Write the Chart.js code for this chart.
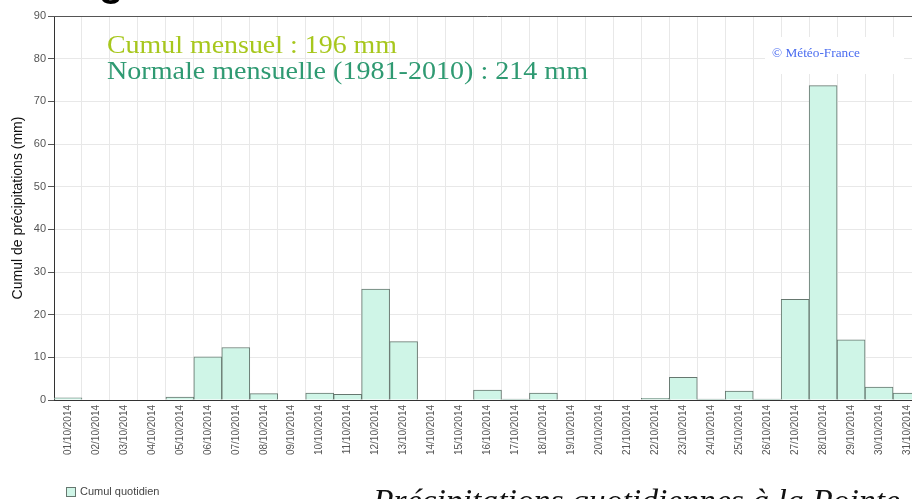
<!DOCTYPE html>
<html>
<head>
<meta charset="utf-8">
<script src="https://cdn.jsdelivr.net/npm/chart.js@4.4.1/dist/chart.umd.min.js"></script>
<style>
  html, body { margin: 0; padding: 0; background: #fff; overflow: hidden; }
  #wrap { width: 912px; height: 499px; overflow: hidden; position: relative; }
  canvas { display: block; }
</style>
</head>
<body>
<div id="wrap"><canvas id="c" width="930" height="499"></canvas></div>
<script>
const categories = [
  '01/10/2014','02/10/2014','03/10/2014','04/10/2014','05/10/2014','06/10/2014','07/10/2014','08/10/2014',
  '09/10/2014','10/10/2014','11/10/2014','12/10/2014','13/10/2014','14/10/2014','15/10/2014','16/10/2014',
  '17/10/2014','18/10/2014','19/10/2014','20/10/2014','21/10/2014','22/10/2014','23/10/2014','24/10/2014',
  '25/10/2014','26/10/2014','27/10/2014','28/10/2014','29/10/2014','30/10/2014','31/10/2014'
];
const dailyRain = [
  0.5, 0, 0, 0, 0.7, 10.1, 12.3, 1.5,
  0, 1.6, 1.3, 26.0, 13.7, 0, 0, 2.3,
  0.2, 1.6, 0, 0, 0, 0.4, 5.3, 0.2,
  2.1, 0.2, 23.6, 73.7, 14.1, 3.0, 1.6
];
const yTicks = [0, 10, 20, 30, 40, 50, 60, 70, 80, 90];
const seriesName = 'Cumul quotidien';
const axisTitle = 'Cumul de précipitations (mm)';
const monthlyText = 'Cumul mensuel : 196 mm';
const normalText = 'Normale mensuelle (1981-2010) : 214 mm';
const creditText = '© Météo-France';
const captionText = 'Précipitations quotidiennes à la Pointe';
const headerText = 'g';

const FILL = '#cff5e7';
const EDGE = '#66776f';

function fitText(ctx, text, x, y, width) {
  const w = ctx.measureText(text).width;
  ctx.save();
  ctx.translate(x, y);
  ctx.scale(width / w, 1);
  ctx.fillText(text, 0, 0);
  ctx.restore();
}

const decor = {
  id: 'decor',
  beforeDatasetsDraw(chart) {
    const ctx = chart.ctx;
    ctx.save();
    ctx.fillStyle = '#ffffff';
    ctx.fillRect(765, 37, 139, 37);
    ctx.restore();
  },
  afterDraw(chart) {
    const ctx = chart.ctx, a = chart.chartArea;
    ctx.save();
    ctx.strokeStyle = '#555555';
    ctx.lineWidth = 1;
    ctx.beginPath();
    ctx.moveTo(a.left, a.top + 0.5);
    ctx.lineTo(a.right, a.top + 0.5);
    ctx.stroke();

    ctx.textBaseline = 'alphabetic';
    ctx.textAlign = 'left';
    ctx.font = '25px "Liberation Serif", "Times New Roman", serif';
    ctx.fillStyle = '#a7c71d';
    fitText(ctx, monthlyText, 107, 53, 290);
    ctx.fillStyle = '#2f9a72';
    fitText(ctx, normalText, 107, 79, 481);

    ctx.font = '13px "Liberation Serif", "Times New Roman", serif';
    ctx.fillStyle = '#4a6cf0';
    fitText(ctx, creditText, 772, 57, 88);

    ctx.font = 'bold 40px "Liberation Sans", Arial, sans-serif';
    ctx.fillStyle = '#000';
    ctx.fillText(headerText, 99, -4);

    ctx.font = 'italic 31px "Liberation Serif", "Times New Roman", serif';
    ctx.fillStyle = '#111';
    fitText(ctx, captionText, 373, 511, 527);

    ctx.fillStyle = FILL;
    ctx.strokeStyle = EDGE;
    ctx.fillRect(66.5, 487.5, 9, 9);
    ctx.strokeRect(66.5, 487.5, 9, 9);
    ctx.font = '11px "Liberation Sans", Arial, sans-serif';
    ctx.fillStyle = '#444';
    ctx.textBaseline = 'middle';
    ctx.fillText(seriesName, 80, 492);
    ctx.restore();
  }
};

new Chart(document.getElementById('c'), {
  type: 'bar',
  data: {
    labels: categories,
    datasets: [{
      label: seriesName,
      data: dailyRain,
      backgroundColor: FILL,
      borderColor: EDGE,
      borderWidth: 1,
      barPercentage: 1.0,
      categoryPercentage: 1.0
    }]
  },
  options: {
    responsive: false,
    animation: false,
    devicePixelRatio: 1,
    layout: { padding: { top: 16, right: 9, left: 0, bottom: 0 } },
    plugins: {
      legend: { display: false },
      tooltip: { enabled: false },
      title: { display: false }
    },
    scales: {
      x: {
        offset: true,
        grid: { color: '#e8e8e8', offset: true, drawTicks: false },
        border: { color: '#333', width: 1 },
        ticks: {
          autoSkip: false,
          maxRotation: 90,
          minRotation: 90,
          padding: 5,
          color: '#555',
          font: { family: '"Liberation Sans", Arial, sans-serif', size: 10 }
        },
        afterFit(scale) { scale.height = 99; }
      },
      y: {
        min: 0,
        max: 90,
        afterBuildTicks(scale) { scale.ticks = yTicks.map(v => ({ value: v })); },
        grid: { color: '#e8e8e8', tickLength: 6, tickColor: '#555' },
        border: { color: '#333', width: 1 },
        ticks: {
          padding: 2,
          color: '#555',
          font: { family: '"Liberation Sans", Arial, sans-serif', size: 11 }
        },
        title: {
          display: true,
          text: axisTitle,
          color: '#111',
          padding: { top: 10, bottom: 4 },
          font: { family: '"Liberation Sans", Arial, sans-serif', size: 14 }
        },
        afterFit(scale) { scale.width = 54; }
      }
    }
  },
  plugins: [decor]
});
</script>
</body>
</html>
